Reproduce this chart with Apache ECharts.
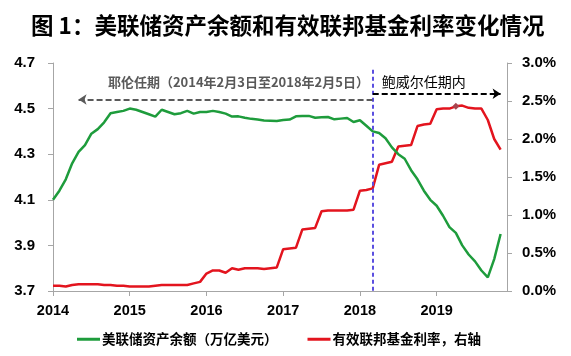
<!DOCTYPE html>
<html><head><meta charset="utf-8">
<script src="https://cdn.jsdelivr.net/npm/echarts@6/dist/echarts.min.js"></script>
<style>html,body{margin:0;padding:0;background:#fff}#c{width:571px;height:356px}</style>
</head><body><div id="c"></div>
<script>
// Monthly categories Jan 2014 .. Dec 2019
const months = [];
for (let y = 2014; y <= 2019; y++) for (let m = 1; m <= 12; m++) months.push(y + '-' + (m < 10 ? '0' + m : m));

// Fed balance sheet (trillion USD), Jan 2014 .. Nov 2019
const fedAssets = [
  4.10,4.14,4.19,4.26,4.31,4.34,4.39,4.41,4.44,4.48,4.485,4.49,
  4.50,4.495,4.485,4.475,4.465,4.495,4.485,4.475,4.48,4.49,4.478,4.485,
  4.485,4.49,4.485,4.478,4.465,4.466,4.46,4.455,4.452,4.448,4.447,4.446,
  4.45,4.452,4.466,4.468,4.468,4.46,4.462,4.463,4.453,4.456,4.459,4.441,
  4.449,4.425,4.40,4.393,4.37,4.33,4.30,4.28,4.23,4.19,4.14,4.10,
  4.074,4.03,3.98,3.955,3.90,3.86,3.83,3.79,3.76,3.84,3.95
];
// Effective federal funds rate (%), Jan 2014 .. Nov 2019
const effRate = [
  0.07,0.07,0.06,0.08,0.09,0.09,0.09,0.09,0.08,0.08,0.07,0.07,
  0.06,0.06,0.06,0.06,0.07,0.08,0.08,0.08,0.08,0.08,0.10,0.12,
  0.23,0.27,0.27,0.24,0.30,0.28,0.30,0.30,0.30,0.29,0.30,0.31,
  0.55,0.56,0.57,0.81,0.82,0.83,1.05,1.06,1.06,1.06,1.06,1.07,
  1.32,1.33,1.35,1.66,1.68,1.70,1.90,1.91,1.92,2.17,2.19,2.20,
  2.39,2.40,2.40,2.43,2.44,2.41,2.40,2.40,2.25,2.00,1.86
];
const leftTicks = {min: 3.7, max: 4.7, interval: 0.2};
const rightTicks = {min: 0, max: 3, interval: 0.5};
const seriesNames = ['美联储资产余额（万亿美元）', '有效联邦基金利率，右轴'];
const yellenText = '耶伦任期（2014年2月3日至2018年2月5日）';
const powellText = '鲍威尔任期内';
const powellStartIdx = 50;
const markedIdx = 63;

const numFont = 'Liberation Sans';
const cjk = 'Noto Sans CJK SC';

const redData = effRate.map((v, i) => i === markedIdx ? {value: v, symbolSize: 7, itemStyle: {color: '#A8454F'}} : v);

const chart = echarts.init(document.getElementById('c'), null, {renderer: 'canvas'});
chart.setOption({
  animation: false,
  backgroundColor: '#fff',
  title: {
    text: '图 1：美联储资产余额和有效联邦基金利率变化情况',
    left: 26, top: 9,
    textStyle: {fontFamily: cjk, fontWeight: 'bold', fontSize: 22.5, color: '#000'}
  },
  grid: {left: 53, right: 64, top: 63, bottom: 65},
  legend: {
    left: 72, bottom: 5, itemGap: 30,
    itemWidth: 23, itemHeight: 3, icon: 'rect',
    textStyle: {fontFamily: cjk, fontWeight: 'bold', fontSize: 13.5, color: '#000', padding: [0,0,0,-3]},
    data: seriesNames
  },
  xAxis: {
    type: 'category', data: months, boundaryGap: false,
    axisLine: {lineStyle: {color: '#A6A6A6', width: 1}},
    axisTick: {show: true, inside: false, length: 5, interval: (i) => i % 12 === 0, lineStyle: {color: '#A6A6A6'}},
    axisLabel: {
      interval: (i) => i % 12 === 0,
      formatter: (v) => v.slice(0, 4),
      fontFamily: numFont, fontWeight: 'bold', fontSize: 14.5, color: '#000', margin: 12
    },
    splitLine: {show: false}
  },
  yAxis: [
    {
      type: 'value', min: leftTicks.min, max: leftTicks.max, interval: leftTicks.interval,
      axisLine: {show: true, lineStyle: {color: '#A6A6A6'}},
      axisTick: {show: true, length: 5, lineStyle: {color: '#A6A6A6'}},
      axisLabel: {formatter: (v) => v.toFixed(1), fontFamily: numFont, fontWeight: 'bold', fontSize: 15, color: '#000', margin: 18},
      splitLine: {show: false}
    },
    {
      type: 'value', min: rightTicks.min, max: rightTicks.max, interval: rightTicks.interval, position: 'right',
      axisLine: {show: true, lineStyle: {color: '#A6A6A6'}},
      axisTick: {show: true, length: 5, lineStyle: {color: '#A6A6A6'}},
      axisLabel: {formatter: (v) => v.toFixed(1) + '%', fontFamily: numFont, fontWeight: 'bold', fontSize: 15, color: '#000', margin: 15},
      splitLine: {show: false}
    }
  ],
  series: [
    {
      name: seriesNames[0], type: 'line', yAxisIndex: 0, data: fedAssets,
      symbol: 'none', smooth: false,
      lineStyle: {color: '#1E9C3C', width: 2.5}, itemStyle: {color: '#1E9C3C'},
      z: 3,
      markLine: {
        silent: true, animation: false,
        data: [
          [{coord: [powellStartIdx, 4.67], symbol: 'none', lineStyle: {color: '#5B4FE0', type: [4, 3], width: 2}},
           {coord: [powellStartIdx, 3.7], symbol: 'none'}],
          [{coord: [4, 4.54], symbol: 'arrow', symbolSize: 8, lineStyle: {color: '#5A5A5A', type: [6, 3], width: 2}},
           {coord: [powellStartIdx, 4.54], symbol: 'none'}],
          [{coord: [powellStartIdx, 4.565], symbol: 'none', lineStyle: {color: '#000', type: [6, 3], width: 2}},
           {coord: [70, 4.565], symbol: 'arrow', symbolSize: 8}]
        ],
        label: {show: false}
      },
      markPoint: {
        silent: true, animation: false, symbol: 'circle', symbolSize: 0,
        data: [
          {coord: [29, 4.616], label: {show: true, position: 'inside', formatter: yellenText, fontFamily: cjk, fontWeight: 'bold', fontSize: 13, color: '#595959'}},
          {coord: [58, 4.616], label: {show: true, position: 'inside', formatter: powellText, fontFamily: cjk, fontWeight: 'normal', fontSize: 14, color: '#000'}}
        ]
      }
    },
    {
      name: seriesNames[1], type: 'line', yAxisIndex: 1, data: redData,
      symbol: 'diamond', symbolSize: 0, showSymbol: true, showAllSymbol: true, smooth: false,
      lineStyle: {color: '#E3141E', width: 2.5}, itemStyle: {color: '#E3141E'},
      z: 2
    }
  ]
});
</script></body></html>
